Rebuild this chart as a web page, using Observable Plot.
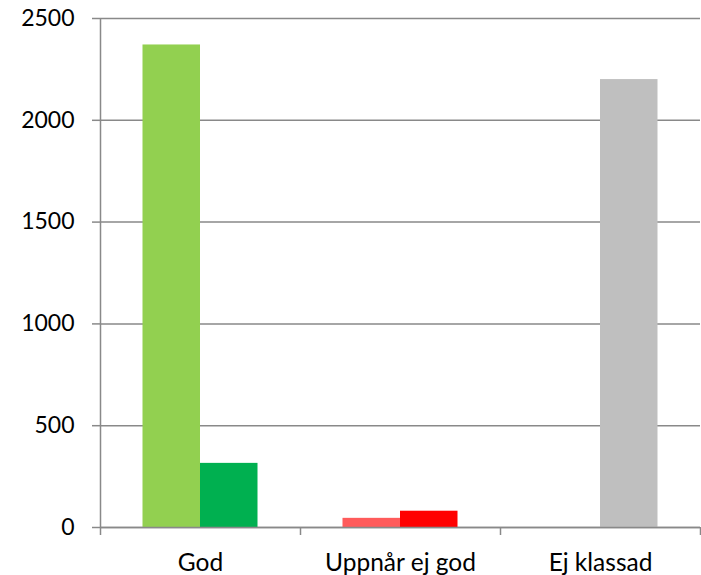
<!DOCTYPE html>
<html>
<head>
<meta charset="utf-8">
<script src="https://cdn.jsdelivr.net/npm/d3@7"></script>
<script src="https://cdn.jsdelivr.net/npm/@observablehq/plot@0.6"></script>
<style>
  html, body { margin: 0; padding: 0; background: #fff; }
</style>
</head>
<body>
<div id="chart"></div>
<script>
const categories = ["God", "Uppnår ej god", "Ej klassad"];
const seriesA = [2370, 45, 0];
const seriesB = [315, 80, 2200];
const colorsA = ["#92d050", "#ff5b5b", "#bfbfbf"];
const colorsB = ["#00b050", "#ff0000", "#bfbfbf"];
const yTicks = [0, 500, 1000, 1500, 2000, 2500];

const barWidth = 0.2875; // fraction of category width per bar
const gray = "#898989";

const rows = [];
categories.forEach((c, i) => {
  rows.push({cat: c, x1: i + 0.5 - barWidth, x2: i + 0.5, v: seriesA[i], color: colorsA[i]});
  rows.push({cat: c, x1: i + 0.5, x2: i + 0.5 + barWidth, v: seriesB[i], color: colorsB[i]});
});
const centers = categories.map((c, i) => i + 0.5);
const bounds = d3.range(categories.length + 1);

const chart = Plot.plot({
  width: 701,
  height: 575,
  marginLeft: 100,
  marginRight: 1,
  marginTop: 18,
  marginBottom: 48,
  style: {fontFamily: "Lato", fontSize: "23px", background: "#fff", color: "#000"},
  x: {domain: [0, categories.length], axis: null},
  y: {domain: [0, 2500], axis: null},
  color: {type: "identity"},
  marks: [
    Plot.gridY(yTicks, {stroke: gray, strokeOpacity: 1, strokeWidth: 1.5}),
    Plot.rect(rows, {x1: "x1", x2: "x2", y1: 0, y2: "v", fill: "color"}),
    Plot.ruleX([0], {y1: 0, y2: 2500, stroke: gray, strokeWidth: 1.5}),
    Plot.ruleY([0], {stroke: gray, strokeWidth: 1.5}),
    Plot.axisY({ticks: yTicks, label: null, tickSize: 8, tickPadding: 18, stroke: gray, strokeWidth: 1.5, fill: "#000", fontSize: 23, tickFormat: d => String(d)}),
    Plot.axisX({ticks: bounds, label: null, tickSize: 8, tickFormat: () => "", stroke: gray, strokeWidth: 1.5}),
    Plot.axisX({ticks: centers, label: null, tickSize: 0, tickPadding: 26, fill: "#000", fontSize: 24.5, tickFormat: d => categories[Math.round(d - 0.5)]})
  ]
});
document.getElementById("chart").appendChild(chart);
</script>
</body>
</html>
